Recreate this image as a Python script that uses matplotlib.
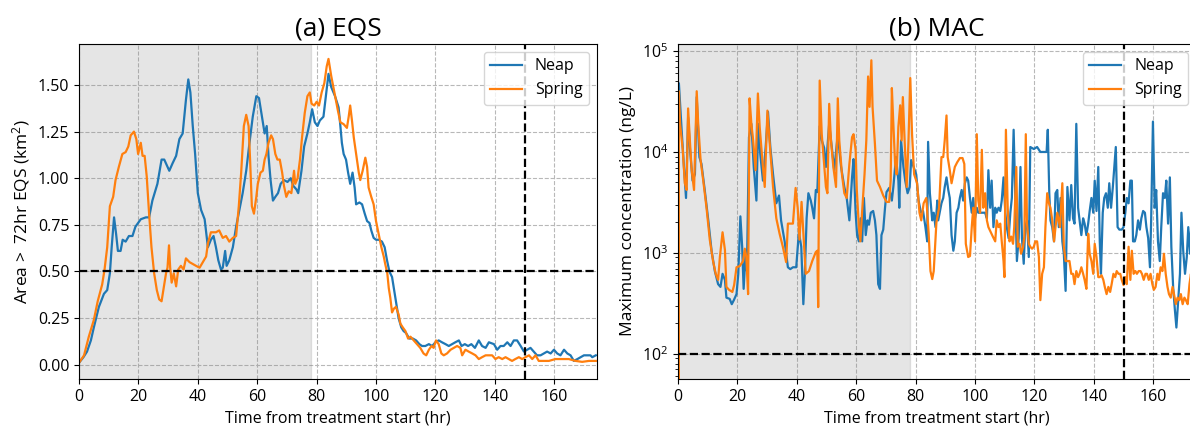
import numpy as np
import matplotlib
matplotlib.use("Agg")
import matplotlib.pyplot as plt
from matplotlib.ticker import MultipleLocator, FormatStrFormatter

plt.rcParams["font.family"] = ["Open Sans", "DejaVu Sans"]
plt.rcParams["mathtext.fontset"] = "custom"
plt.rcParams["mathtext.rm"] = "Open Sans"
plt.rcParams["mathtext.it"] = "Open Sans:italic"
plt.rcParams["font.size"] = 12

# ---- (a) EQS: area above the 72hr EQS (km2) ----
neap_eqs_t = [0, 1.5, 2.7, 4, 5, 6.7, 8.4, 9.5, 10.4, 11, 11.8, 12.5, 13.1, 14, 14.7, 15.7, 16.8, 18, 19,
              20.8, 22.5, 23.6, 24.7, 26.4, 27.8, 28.7, 30.4, 31.5, 32.7, 33.8, 34.9, 36, 36.8, 37.5, 38.3,
              39.1, 40, 41.1, 42.3, 43.4, 44.4, 45.3, 46.1, 46.9, 47.8, 48.4, 49.2, 49.7, 50.6, 51.8, 52.9,
              54, 55.1, 56.3, 57.4, 58.5, 59.7, 60.6, 61.6, 62.5, 63.2, 63.8, 64.5, 65.3, 66.1, 67, 67.9,
              69, 70.2, 71.3, 72.1, 73.2, 73.8, 74.9, 75.8, 76.9, 77.7, 78.5, 79.4, 80.3, 81.1, 82.3, 83.1,
              84, 84.9, 86.2, 87.4, 88, 88.5, 89.1, 89.9, 90.6, 91.3, 92.1, 92.8, 93.3, 94.4, 95.3, 96.2,
              97, 97.8, 98.4, 99.2, 100, 100.9, 102, 102.9, 103.7, 104.5, 105.4, 106.3, 106.9, 107.6, 108.5,
              109.3, 110.1, 111.2, 112.4, 113.5, 114.6, 115.5, 116.6, 117.8, 118.9, 120, 121.1, 122.2, 123.4,
              124.5, 125.6, 126.7, 127.9, 128.8, 129.9, 131, 132.1, 133.3, 134.6, 135.7, 136.9, 138, 139.7,
              140.8, 141.9, 143, 144.2, 145.3, 146.4, 147.5, 148.7, 149.8, 150.9, 152, 153.1, 154.2, 155.4,
              156.5, 157.6, 158.8, 159.9, 161, 162.1, 163.3, 164.4, 165.5, 166.6, 167.8, 168.9, 170, 171.1,
              172.2, 172.8, 174]
neap_eqs = [0.01, 0.04, 0.07, 0.13, 0.2, 0.31, 0.38, 0.4, 0.49, 0.63, 0.79, 0.7, 0.61, 0.61, 0.67, 0.66, 0.69,
            0.69, 0.74, 0.78, 0.79, 0.79, 0.88, 0.97, 1.1, 1.1, 1.04, 1.08, 1.12, 1.21, 1.24, 1.42, 1.53, 1.46,
            1.28, 1.13, 0.92, 0.83, 0.78, 0.63, 0.67, 0.69, 0.63, 0.56, 0.51, 0.52, 0.61, 0.53, 0.56, 0.63,
            0.74, 0.83, 0.92, 1.04, 1.19, 1.33, 1.44, 1.43, 1.33, 1.24, 1.28, 1.12, 0.99, 0.88, 0.9, 0.92,
            0.97, 0.99, 0.98, 1.0, 0.96, 0.94, 0.92, 1.04, 1.17, 1.24, 1.3, 1.37, 1.3, 1.28, 1.31, 1.33, 1.44,
            1.56, 1.49, 1.44, 1.38, 1.28, 1.19, 1.13, 1.1, 1.03, 0.97, 1.03, 0.95, 0.86, 0.87, 0.86, 0.81,
            0.77, 0.76, 0.72, 0.68, 0.67, 0.67, 0.66, 0.63, 0.56, 0.5, 0.47, 0.38, 0.32, 0.25, 0.2, 0.18,
            0.17, 0.14, 0.14, 0.13, 0.11, 0.1, 0.1, 0.11, 0.1, 0.12, 0.13, 0.12, 0.11, 0.1, 0.11, 0.12, 0.13,
            0.1, 0.11, 0.1, 0.11, 0.09, 0.13, 0.1, 0.09, 0.12, 0.11, 0.08, 0.1, 0.1, 0.12, 0.1, 0.13, 0.13,
            0.1, 0.07, 0.08, 0.09, 0.07, 0.05, 0.05, 0.06, 0.07, 0.06, 0.08, 0.06, 0.05, 0.08, 0.06, 0.05,
            0.02, 0.03, 0.04, 0.05, 0.05, 0.05, 0.04, 0.05]

spring_eqs_t = [0, 1.7, 3.3, 5, 6.3, 7.8, 8.6, 9.5, 10.4, 11.5, 12.3, 13.4, 14.6, 15.7, 16.6, 17.4, 18.5,
                19.3, 19.9, 20.8, 21.4, 22.1, 22.8, 23.6, 24.4, 25.3, 26.2, 27, 27.8, 28.7, 29.3, 29.8, 30.3,
                30.7, 31.2, 31.9, 32.7, 33.4, 34.3, 35.2, 36, 37.2, 38.3, 39.4, 40.6, 41.7, 42.8, 43.4, 44.4,
                46.1, 47.2, 48.4, 49.5, 50.6, 51.8, 52.9, 53.8, 54.6, 55.5, 56.3, 57.1, 57.6, 58.2, 58.9,
                59.7, 60.2, 61.1, 61.9, 62.5, 63.1, 63.8, 64.7, 65.3, 66.1, 66.8, 67.6, 68.4, 69, 69.8, 70.6,
                71.5, 72.4, 72.8, 73.6, 74.4, 75.1, 76, 76.9, 77.7, 78.3, 79.2, 80, 80.8, 81.7, 82.6, 83.4,
                84, 84.9, 86, 87.2, 88, 89.1, 90.2, 90.8, 91.3, 91.9, 92.5, 93.3, 94.2, 94.7, 95.5, 96.4, 97,
                97.5, 98.4, 99.2, 100, 100.9, 101.8, 102.6, 103.1, 103.8, 104.3, 104.8, 105.4, 106, 106.7,
                107.6, 108.2, 109, 109.9, 110.8, 111.6, 112.7, 113.8, 114.9, 116, 116.9, 117.8, 118.7, 119.4,
                120.2, 121.1, 122, 122.8, 123.9, 125.1, 126.2, 127.3, 128.4, 129, 130.1, 131.2, 132.4, 133.5,
                134.6, 135.7, 136.9, 138, 139.1, 140.2, 141.3, 142.5, 143.6, 144.7, 145.8, 146.9, 148.1,
                149.2, 150.3, 151.5, 152.6, 153.7, 154.8, 155.9, 158.2, 160.4, 162.7, 164.9, 167.2, 169.4,
                171.7, 174]
spring_eqs = [0.01, 0.05, 0.15, 0.24, 0.34, 0.43, 0.51, 0.63, 0.85, 0.9, 0.99, 1.06, 1.13, 1.14, 1.17, 1.23,
              1.25, 1.21, 1.13, 1.19, 1.12, 1.12, 1.01, 0.81, 0.63, 0.49, 0.4, 0.35, 0.34, 0.43, 0.49, 0.52,
              0.64, 0.52, 0.44, 0.49, 0.42, 0.51, 0.53, 0.51, 0.57, 0.55, 0.54, 0.53, 0.52, 0.55, 0.58, 0.65,
              0.71, 0.71, 0.72, 0.68, 0.69, 0.66, 0.68, 0.69, 0.85, 1.03, 1.28, 1.34, 1.28, 1.1, 0.85, 0.81,
              0.9, 0.97, 1.03, 1.04, 1.1, 1.13, 1.19, 1.23, 1.21, 1.13, 1.1, 1.1, 1.03, 0.96, 0.9, 0.93, 0.92,
              1.04, 0.97, 1.0, 1.1, 1.22, 1.35, 1.44, 1.46, 1.4, 1.39, 1.41, 1.39, 1.46, 1.51, 1.6, 1.64, 1.55,
              1.46, 1.36, 1.3, 1.29, 1.27, 1.33, 1.39, 1.31, 1.22, 1.13, 1.03, 0.99, 1.04, 1.11, 1.06, 0.95,
              0.9, 0.86, 0.77, 0.7, 0.63, 0.58, 0.54, 0.49, 0.41, 0.36, 0.28, 0.3, 0.31, 0.27, 0.22, 0.2, 0.18,
              0.14, 0.15, 0.13, 0.11, 0.09, 0.06, 0.05, 0.08, 0.1, 0.09, 0.13, 0.11, 0.06, 0.05, 0.06, 0.08,
              0.09, 0.1, 0.09, 0.05, 0.08, 0.07, 0.06, 0.05, 0.03, 0.04, 0.05, 0.05, 0.05, 0.03, 0.04, 0.03,
              0.04, 0.03, 0.02, 0.03, 0.04, 0.03, 0.04, 0.05, 0.03, 0.05, 0.02, 0.02, 0.02, 0.03, 0.03, 0.03,
              0.02, 0.015, 0.02, 0.02]

# ---- (b) MAC: maximum concentration (ng/L) ----
neap_mac_t = [0, 0.3, 1.2, 2.0, 2.7, 3.4, 4.0, 4.9, 5.7, 6.3, 7.2, 7.9, 9.0, 10.2, 11.3, 12.4, 13.5, 14.3,
              15.0, 15.8, 16.3, 17.4, 18.1, 18.8, 19.7, 20.3, 21.0, 21.6, 22.1, 22.8, 23.2, 23.9, 24.7, 25.5,
              26.4, 27.0, 27.7, 28.6, 29.5, 30.3, 31.1, 32.0, 33.1, 34.0, 34.7, 35.9, 37.0, 37.8, 38.7, 39.8,
              40.7, 41.5, 42.2, 42.7, 43.3, 43.9, 44.7, 45.2, 45.8, 46.4, 46.9, 47.7, 48.4, 49.2, 49.8, 50.9,
              51.8, 52.6, 53.8, 54.9, 56.0, 56.8, 57.7, 58.6, 59.1, 59.8, 60.3, 60.9, 61.5, 62.0, 62.6, 63.2,
              63.8, 64.3, 64.9, 65.7, 66.3, 66.8, 67.4, 68.0, 68.5, 69.1, 69.7, 70.2, 71.1, 72.0, 72.5, 73.4,
              74.2, 74.5, 75.1, 75.9, 76.5, 77.3, 78.0, 78.5, 79.3, 80.2, 81.0, 81.8, 82.5, 83.3, 83.9, 84.2,
              84.8, 85.6, 86.1, 86.7, 87.3, 87.6, 88.1, 88.7, 89.3, 89.8, 90.4, 91.0, 91.5, 92.1, 92.7, 93.2,
              93.8, 94.4, 94.9, 95.5, 96.0, 96.6, 97.2, 97.7, 98.3, 98.9, 99.4, 100.0, 100.6, 101.1, 101.7,
              102.6, 103.4, 104.0, 104.5, 105.1, 105.6, 106.2, 106.8, 107.3, 107.9, 108.5, 109.0, 109.6, 110.2,
              110.7, 111.3, 111.9, 112.4, 113.0, 113.6, 114.1, 114.7, 115.3, 115.8, 116.4, 116.9, 117.5, 118.1,
              118.6, 119.8, 120.9, 122.0, 123.2, 124.1, 124.5, 125.0, 125.4, 126.0, 126.6, 127.1, 127.7, 128.2,
              128.8, 129.4, 129.9, 130.5, 131.1, 131.8, 132.4, 133.0, 133.5, 134.1, 134.7, 135.2, 135.8, 136.4,
              136.9, 137.5, 138.1, 138.6, 139.2, 139.8, 140.3, 140.9, 141.5, 142.0, 142.4, 143.0, 143.5, 144.1,
              144.7, 145.2, 145.8, 146.4, 146.9, 147.4, 148.0, 148.6, 149.4, 150.0, 150.6, 151.1, 151.7, 152.3,
              152.8, 153.2, 153.8, 154.3, 154.9, 155.5, 156.0, 156.6, 157.2, 157.7, 158.3, 158.9, 159.3, 159.9,
              160.5, 161.0, 161.6, 162.2, 162.7, 163.3, 163.9, 164.4, 165.0, 165.6, 166.1, 166.7, 167.3, 167.8,
              168.4, 169.0, 169.5, 170.1, 170.7, 171.3, 171.8, 172.4, 173.0, 173.4, 174.0]
neap_mac = [0, 48000, 17000, 7100, 3500, 22000, 11000, 5200, 6000, 35000, 8900, 7600, 4200, 2100, 1050, 660,
            490, 460, 620, 540, 360, 350, 310, 340, 390, 620, 2300, 1150, 440, 1050, 660, 14000, 19000, 7100,
            3300, 19000, 9500, 5200, 11000, 25000, 11000, 6000, 3100, 3700, 2100, 1300, 720, 690, 720, 720,
            1600, 1150, 310, 620, 2200, 3900, 3300, 2800, 2200, 4200, 4000, 18000, 13000, 11000, 7100, 19000,
            11000, 6600, 15000, 7100, 4500, 3500, 2100, 5600, 8500, 2500, 1500, 1300, 2200, 1300, 3500, 1500,
            2100, 1900, 2500, 2600, 2100, 1500, 490, 440, 1500, 1700, 2800, 4000, 4400, 3300, 4500, 8900,
            5200, 2800, 13000, 7100, 5200, 3900, 4500, 8300, 7100, 6000, 3300, 2500, 2600, 1800, 1300, 12600,
            3900, 2100, 2500, 1800, 3300, 2100, 2500, 3100, 3500, 4500, 5600, 4200, 3500, 1500, 1050, 1300,
            2500, 2800, 3500, 4200, 3300, 4900, 5600, 5200, 3500, 2500, 3500, 2200, 2800, 2500, 2500,
            2500, 2500, 2200, 6600, 2800, 5200, 1800, 2800, 2500, 2800, 2600, 3300, 5600, 2500,
            1800, 1400, 2500, 3500, 16600, 3100, 830, 1400, 7100, 1400, 780, 1800, 2100, 910,
            11200, 10700, 11200, 10000, 10000, 10000, 16600, 3900, 2100, 1800, 1300, 3900, 4200, 1800,
            3500, 1300, 980, 420, 4500, 2100, 4700, 2200, 1950, 19000, 2800, 2100, 1500, 2200,
            1950, 1500, 1950, 2600, 3500, 2500, 5200, 2600, 7100, 1300, 620, 2500, 3500, 3900,
            2800, 4900, 2800, 4500, 7100, 11200, 1800, 1700, 1700, 1800, 2500, 3500, 3100, 5200,
            5200, 1300, 1300, 1500, 2100, 1700, 2200, 2600, 2500, 1800, 1400, 720, 2100, 20000,
            2800, 4200, 1300, 830, 1800, 3900, 3500, 5200, 1950, 5600, 1150, 460, 270, 182,
            340, 620, 2500, 1050, 620, 910, 1800, 980, 2500, 1300, 2000]

spring_mac_t = [0, 0.3, 0.7, 1.6, 2.3, 2.9, 3.4, 4.0, 4.6, 5.4, 6.3, 6.8, 7.6, 8.5, 9.6, 10.7, 11.8, 12.7,
                13.5, 14.1, 15.0, 15.8, 16.3, 17.2, 18.3, 18.9, 19.7, 20.8, 21.9, 22.5, 23.0, 23.6, 24.1, 24.7,
                25.3, 26.1, 26.9, 27.5, 28.4, 29.2, 30.1, 30.8, 32.0, 33.1, 34.2, 35.3, 36.4, 37.0, 38.1, 38.7,
                39.6, 40.3, 40.9, 41.6, 43.0, 44.1, 45.2, 46.4, 46.9, 47.2, 47.7, 48.4, 49.2, 49.8, 50.3, 50.9,
                51.5, 52.3, 53.2, 53.8, 54.3, 55.2, 56.0, 56.8, 57.7, 58.6, 59.1, 59.8, 60.2, 60.9, 61.4, 62.0,
                62.8, 63.4, 64.0, 64.5, 65.1, 65.5, 66.3, 67.0, 68.0, 69.1, 70.2, 71.1, 71.6, 72.0, 72.5, 73.1,
                73.6, 74.2, 74.8, 75.3, 75.7, 76.3, 77.0, 77.6, 78.2, 78.8, 79.5, 80.5, 81.3, 81.9, 82.7, 83.6,
                84.4, 85.0, 85.6, 86.1, 87.0, 87.9, 88.7, 89.3, 89.8, 90.4, 90.8, 91.5, 92.1, 92.7, 93.2, 94.0,
                94.9, 95.8, 96.4, 96.9, 97.7, 98.3, 98.9, 99.4, 100.0, 100.6, 101.1, 101.7, 102.3, 102.8, 103.4,
                104.0, 104.5, 105.1, 106.0, 106.8, 107.3, 107.9, 108.5, 109.0, 109.6, 109.9, 110.4, 111.0,
                111.6, 112.2, 112.8, 113.2, 113.9, 114.4, 115.0, 115.5, 116.2, 116.6, 117.1, 117.5, 118.1,
                118.6, 119.2, 119.8, 120.3, 120.9, 121.5, 122.0, 122.6, 123.2, 123.7, 124.3, 124.9, 125.4,
                126.0, 126.6, 127.1, 127.7, 128.6, 129.4, 129.9, 130.5, 131.3, 131.8, 132.4, 133.0, 133.5,
                134.1, 134.7, 135.2, 135.8, 136.4, 136.9, 137.5, 138.1, 138.6, 139.2, 139.8, 140.3, 140.9,
                141.5, 142.0, 142.6, 143.2, 143.7, 144.3, 144.9, 145.5, 146.0, 146.6, 147.2, 147.7, 148.3,
                148.9, 149.4, 150.0, 150.6, 151.1, 151.7, 152.3, 152.8, 153.4, 154.0, 154.5, 155.1, 155.7,
                156.2, 156.8, 157.4, 157.9, 158.5, 159.1, 159.7, 160.2, 160.8, 161.4, 161.9, 162.5, 163.1,
                163.6, 164.2, 164.8, 165.3, 165.9, 166.5, 167.0, 167.6, 168.2, 168.8, 169.3, 169.9, 170.5,
                171.0, 171.6, 172.2, 172.7, 173.2, 174.0]
spring_mac = [0, 40000, 19000, 10500, 4900, 4200, 27000, 13000, 6600, 4200, 40000, 19000, 8300, 5200, 2800,
              1350, 830, 620, 540, 910, 1600, 1070, 460, 430, 410, 480, 720, 740, 830, 1100, 910, 390, 34000,
              19000, 13000, 6600, 38000, 17800, 8300, 4500, 25700, 13000, 4500, 2200, 1550, 1150, 810, 1950,
              1950, 1950, 4400, 2800, 1350, 3200, 620, 660, 830, 1020, 1050, 290, 51000, 15000, 7600, 4500,
              3900, 30000, 13000, 7100, 4500, 34000, 13000, 6000, 3900, 3500, 7600, 14000, 15000, 10500, 4200,
              1800, 1300, 2600, 6000, 13000, 56000, 28000, 81000, 28000, 12000, 5200, 4500, 3700, 3200, 3200,
              5200, 43000, 19000, 7600, 6000, 17800, 29000, 13000, 35000, 13000, 4500, 13000, 54000, 15000,
              6000, 4900, 2500, 2100, 3100, 3500, 1550, 660, 550, 660, 2000, 2800, 8900, 8900, 13000, 23000,
              8900, 6600, 4900, 6000, 7100, 7900, 8700, 8700, 7600, 1230, 910, 930, 1800, 2800, 1300, 15000,
              3300, 2500, 10500, 2800, 3900, 2100, 1800, 1650, 1450, 1300, 2100, 1800, 1950, 1300, 830, 575,
              16600, 2800, 1300, 1450, 1230, 1800, 7100, 1150, 1230, 980, 1150, 1450, 15000, 1950, 1230, 1150,
              1100, 1150, 1300, 1300, 910, 340, 620, 720, 1800, 3900, 3100, 2800, 2100, 1300, 1800, 2500,
              1800, 4900, 1150, 830, 830, 830, 620, 620, 490, 660, 575, 620, 720, 620, 540, 440, 1550, 980,
              830, 620, 1230, 910, 575, 575, 600, 540, 460, 390, 460, 410, 490, 620, 575, 660, 620, 620, 540,
              480, 575, 490, 1150, 540, 1050, 620, 660, 620, 660, 660, 620, 540, 620, 620, 540, 620, 490, 430,
              460, 620, 540, 720, 660, 980, 620, 460, 390, 360, 460, 390, 310, 360, 340, 390, 310, 360, 340,
              310, 490, 620, 390, 450]

treatment_end = 78
check_time = 150
eqs_threshold = 0.5
mac_threshold = 100

fig = plt.figure(figsize=(11.9, 4.26), dpi=100)
ax1 = fig.add_axes([79 / 1190, 47 / 426, 518 / 1190, 335 / 426])
ax2 = fig.add_axes([678 / 1190, 47 / 426, 518 / 1190, 335 / 426])

for ax in (ax1, ax2):
    ax.axvspan(0, treatment_end, color="grey", alpha=0.2)
    ax.grid(True, linestyle="--", color="#b8b8b8", linewidth=0.8)
    ax.set_axisbelow(True)
    ax.set_xlim(0, 174.4)
    ax.set_xlabel("Time from treatment start (hr)", fontsize=11.5)
    ax.tick_params(labelsize=11.5)

# (a) EQS
ax1.plot(neap_eqs_t, neap_eqs, color="tab:blue", linewidth=1.6, label="Neap")
ax1.plot(spring_eqs_t, spring_eqs, color="tab:orange", linewidth=1.6, label="Spring")
ax1.axhline(eqs_threshold, color="black", linestyle="--", linewidth=1.6)
ax1.axvline(check_time, color="black", linestyle="--", linewidth=1.6)
ax1.set_ylim(-0.077, 1.72)
ax1.yaxis.set_major_locator(MultipleLocator(0.25))
ax1.yaxis.set_major_formatter(FormatStrFormatter("%.2f"))
ax1.set_ylabel("Area >  72hr EQS (km$^2$)", fontsize=12.5)
ax1.set_title("(a) EQS", fontsize=19)
ax1.legend(loc="upper right", fontsize=11.5)

# (b) MAC
ax2.plot(neap_mac_t, neap_mac, color="tab:blue", linewidth=1.6, label="Neap")
ax2.plot(spring_mac_t, spring_mac, color="tab:orange", linewidth=1.6, label="Spring")
ax2.axhline(mac_threshold, color="black", linestyle="--", linewidth=1.6)
ax2.axvline(check_time, color="black", linestyle="--", linewidth=1.6)
ax2.set_yscale("log")
ax2.set_ylim(10 ** 1.75, 10 ** 5.07)
ax2.set_ylabel("Maximum concentration (ng/L)", fontsize=12.5)
ax2.set_title("(b) MAC", fontsize=19)
ax2.legend(loc="upper right", fontsize=11.5)

plt.savefig("out.png", dpi=100)
plt.close()
